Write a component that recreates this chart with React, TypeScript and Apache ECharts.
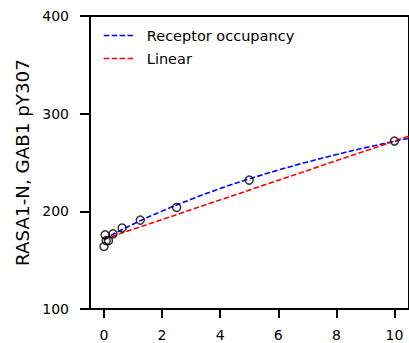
import React, { useEffect, useRef } from "react";
import * as echarts from "echarts";

// Measured doses and signal
const concentrations = [0, 0.039, 0.078, 0.156, 0.3125, 0.625, 1.25, 2.5, 5, 10];
const signal = [164, 176, 170, 170, 177, 183, 191, 204, 232, 272];

// Receptor-occupancy fit, sampled along the dose axis
const occupancyX = [0, 1, 2, 3, 4, 5, 6, 7, 8, 9, 10, 10.5];
const occupancyY = [171.5, 186.8, 200.2, 212.3, 223.3, 233.2, 242.2, 250.5, 258.1, 265.2, 271.7, 274.8];

// Linear fit end points
const linearX = [0, 10.5];
const linearY = [171.5, 277];

const xTicks = [0, 2, 4, 6, 8, 10];
const yTicks = [100, 200, 300, 400];

const FONT = "DejaVu Sans";
const DASH = [5.5, 2.4];

export default function App() {
  const ref = useRef<HTMLDivElement>(null);

  useEffect(() => {
    if (!ref.current) return;
    const chart = echarts.init(ref.current, undefined, { renderer: "svg" });
    chart.setOption({
      animation: false,
      backgroundColor: "#ffffff",
      textStyle: { fontFamily: FONT },
      grid: {
        left: 90,
        top: 16,
        width: 321.7,
        height: 293,
        show: true,
        borderColor: "#000",
        borderWidth: 2,
      },
      legend: {
        orient: "vertical",
        left: 103,
        top: 28,
        padding: 0,
        itemWidth: 30,
        itemHeight: 14,
        itemGap: 8,
        textStyle: { fontFamily: FONT, fontSize: 14.5, color: "#000", padding: [0, 0, 0, 8] },
        data: ["Receptor occupancy", "Linear"],
        itemStyle: { opacity: 0 },
        lineStyle: { type: DASH, width: 1.6 },
      },
      xAxis: {
        type: "value",
        min: -0.48,
        max: 10.5,
        splitLine: { show: false },
        axisLine: { show: true, onZero: false, lineStyle: { color: "#000", width: 2 } },
        axisTick: {
          show: true,
          length: 9,
          customValues: xTicks,
          lineStyle: { color: "#000", width: 2 },
        },
        axisLabel: {
          customValues: xTicks,
          fontFamily: FONT,
          fontSize: 14,
          color: "#000",
          margin: 19,
        },
      },
      yAxis: {
        type: "value",
        position: "left",
        min: 100,
        max: 400,
        interval: 100,
        name: "RASA1-N, GAB1 pY307",
        nameLocation: "middle",
        nameGap: 59,
        nameTextStyle: { fontFamily: FONT, fontSize: 18.3, color: "#000" },
        splitLine: { show: false },
        axisLine: { show: true, onZero: false, lineStyle: { color: "#000", width: 2 } },
        axisTick: {
          show: true,
          inside: false,
          length: 10,
          customValues: yTicks,
          lineStyle: { color: "#000", width: 2 },
        },
        axisLabel: {
          customValues: yTicks,
          fontFamily: FONT,
          fontSize: 14,
          color: "#000",
          margin: 21,
        },
      },
      series: [
        {
          name: "Receptor occupancy",
          type: "line",
          smooth: true,
          symbol: "none",
          data: occupancyX.map((x, i) => [x, occupancyY[i]]),
          lineStyle: { color: "#0000ff", width: 1.6, type: DASH },
          itemStyle: { color: "#0000ff" },
          z: 2,
        },
        {
          name: "Linear",
          type: "line",
          symbol: "none",
          data: linearX.map((x, i) => [x, linearY[i]]),
          lineStyle: { color: "#ff0000", width: 1.6, type: DASH },
          itemStyle: { color: "#ff0000" },
          z: 2,
        },
        {
          name: "Data",
          type: "scatter",
          symbol: "circle",
          symbolSize: 8,
          data: concentrations.map((x, i) => [x, signal[i]]),
          itemStyle: { color: "rgba(0,0,0,0)", borderColor: "#000", borderWidth: 1.5 },
          z: 3,
        },
      ],
    });
    return () => chart.dispose();
  }, []);

  return (
    <div
      ref={ref}
      style={{ position: "fixed", left: 0, top: 0, width: 409, height: 343, overflow: "hidden" }}
    />
  );
}
